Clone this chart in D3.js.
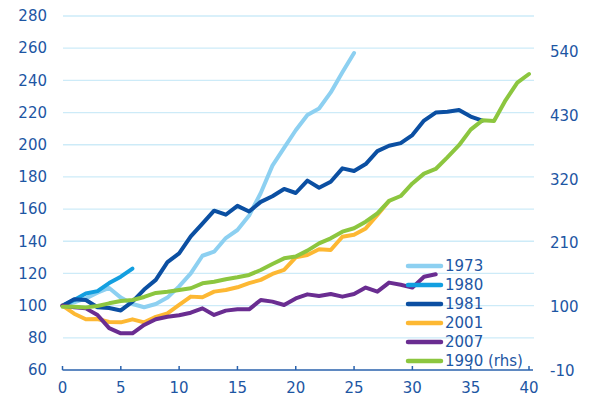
<!DOCTYPE html>
<meta charset="utf-8">
<html>
<head>
  <script src="https://cdn.jsdelivr.net/npm/d3@7"></script>
  <style>
    body { margin: 0; background: #fff; }
    .lbl { font-family: "DejaVu Sans", sans-serif; font-size: 15px; fill: #1d56a3; }
  </style>
</head>
<body>
<div id="viz"></div>
<script>
// values, one entry per period (0, 1, 2, ...)
var s1973 = [100, 102, 104.5, 108, 111, 105, 101, 99, 101, 105, 112, 120, 131, 133.5, 142, 147, 156, 170, 187, 198, 209, 218.5, 222.5, 232.5, 245, 257];
var s1980 = [100, 103.5, 107.5, 109, 114, 118, 123];
var s1981 = [100, 104, 103.5, 99, 98.5, 97, 102.5, 110, 116, 127, 132.5, 143, 151, 159, 156.5, 162, 158.5, 164.5, 168, 172.5, 170, 177.7, 173.3, 177, 185.3, 183.7, 188, 196, 199.4, 201, 206, 215, 220, 220.5, 221.6, 217.5, 215];
var s2001 = [100, 95, 91.5, 91.7, 89.8, 89.6, 91.5, 89.6, 93, 95.2, 100.4, 105.6, 105.2, 108.7, 109.7, 111.4, 114, 116, 119.7, 122.2, 130, 131.5, 135, 134.6, 142.8, 144, 148, 156.3, 165];
var s2007 = [100, 99, 98.3, 94.2, 86, 82.8, 82.8, 88, 91.5, 93.1, 94, 95.6, 98.3, 94.2, 96.9, 97.7, 97.7, 103.5, 102.5, 100.4, 104.5, 107, 106, 107.2, 105.6, 107.2, 111.2, 108.7, 114.3, 113, 111.2, 118, 119.5];
// 1990 is on the right hand scale
var s1990 = [100, 100, 99, 101.4, 106, 110, 111.7, 117, 124, 126, 129, 132, 140.6, 143.3, 147.5, 151, 155, 163.5, 174, 183.7, 187, 197, 209.6, 218.3, 229.7, 235.6, 247, 261.5, 283, 291.3, 313, 330, 338, 358, 379, 406, 422, 421, 457, 487, 502];

var seriesNames = ["1973", "1980", "1981", "2001", "2007", "1990 (rhs)"];
var seriesColors = ["#8dd0f1", "#139fe0", "#0b4fa2", "#fdb833", "#6a2d91", "#8cc63f"];
var leftTicks = [60, 80, 100, 120, 140, 160, 180, 200, 220, 240, 260, 280];
var rightTicks = [-10, 100, 210, 320, 430, 540];
var xTicks = [0, 5, 10, 15, 20, 25, 30, 35, 40];

var config = { width: 591, height: 400 };

var svg = d3.select("#viz").append("svg")
  .attr("width", config.width)
  .attr("height", config.height);

var x = d3.scaleLinear().domain([0, 40]).range([62.5, 529]);
var yL = d3.scaleLinear().domain([60, 280]).range([370, 16]);
var yR = d3.scaleLinear().domain([-10, 540]).range([370.5, 52]);

// gridlines
svg.selectAll(".grid")
  .data(leftTicks.slice(1))
  .enter().append("line")
  .attr("x1", 63).attr("x2", 534)
  .attr("y1", function(d) { return yL(d); })
  .attr("y2", function(d) { return yL(d); })
  .attr("stroke", "#cdebf8")
  .attr("stroke-width", 1.3);

// x axis line and ticks
svg.append("line")
  .attr("x1", x(0)).attr("x2", 533)
  .attr("y1", yL(60)).attr("y2", yL(60))
  .attr("stroke", "#2a62ad").attr("stroke-width", 1.5);

svg.selectAll(".xtick")
  .data(xTicks)
  .enter().append("line")
  .attr("x1", function(d) { return x(d); })
  .attr("x2", function(d) { return x(d); })
  .attr("y1", yL(60) - 4).attr("y2", yL(60))
  .attr("stroke", "#2a62ad").attr("stroke-width", 1.5);

svg.selectAll(".xlbl")
  .data(xTicks)
  .enter().append("text")
  .attr("class", "lbl")
  .attr("x", function(d) { return x(d); })
  .attr("y", 388)
  .attr("dy", "0.35em")
  .attr("text-anchor", "middle")
  .text(function(d) { return d; });

// left labels
svg.selectAll(".ylbl")
  .data(leftTicks)
  .enter().append("text")
  .attr("class", "lbl")
  .attr("x", 47)
  .attr("y", function(d) { return yL(d); })
  .attr("dy", "0.35em")
  .attr("text-anchor", "end")
  .text(function(d) { return d; });

// right labels
svg.selectAll(".rlbl")
  .data(rightTicks)
  .enter().append("text")
  .attr("class", "lbl")
  .attr("x", 550)
  .attr("y", function(d) { return yR(d); })
  .attr("dy", "0.35em")
  .attr("text-anchor", "start")
  .text(function(d) { return d; });

// lines
var allSeries = [s1973, s1980, s1981, s2001, s2007, s1990];
allSeries.forEach(function(vals, i) {
  var yScale = (i == 5) ? yR : yL;
  var line = d3.line()
    .x(function(d, j) { return x(j); })
    .y(function(d) { return yScale(d); });
  svg.append("path")
    .datum(vals)
    .attr("d", line)
    .attr("fill", "none")
    .attr("stroke", seriesColors[i])
    .attr("stroke-width", 4)
    .attr("stroke-linejoin", "round")
    .attr("stroke-linecap", "round");
});

// legend
var legend = svg.selectAll(".legend")
  .data(seriesNames)
  .enter().append("g")
  .attr("transform", function(d, i) { return "translate(0," + (266 + i * 19) + ")"; });

legend.append("line")
  .attr("x1", 408).attr("x2", 441)
  .attr("y1", 0).attr("y2", 0)
  .attr("stroke", function(d, i) { return seriesColors[i]; })
  .attr("stroke-width", 4.5)
  .attr("stroke-linecap", "round");

legend.append("text")
  .attr("class", "lbl")
  .attr("x", 445)
  .attr("y", 0)
  .attr("dy", "0.35em")
  .text(function(d) { return d; });
</script>
</body>
</html>
